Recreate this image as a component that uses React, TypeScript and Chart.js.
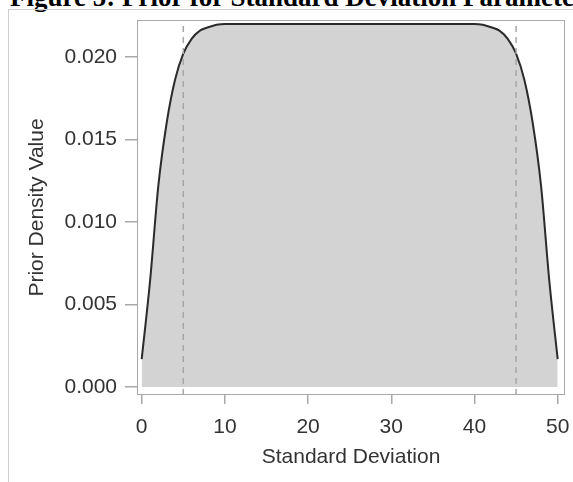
import React, { useEffect, useRef } from "react";
import { Chart, registerables } from "chart.js";

Chart.register(...registerables);

// Data
const sdValues = [0, 1, 2, 3, 4, 5, 6, 7, 8, 9, 10, 15, 20, 25, 30, 35, 40, 41, 42, 43, 44, 45, 46, 47, 48, 49, 50];
const densityValues = [
  0.0017, 0.0064, 0.0122, 0.016, 0.0186, 0.0202, 0.0211, 0.0216, 0.0218, 0.02195, 0.022,
  0.022, 0.022, 0.022, 0.022, 0.022,
  0.022, 0.02195, 0.0218, 0.0216, 0.0211, 0.0202, 0.0186, 0.016, 0.0122, 0.0064, 0.0017,
];
const refLines = [5, 45];
const xTicks = [0, 10, 20, 30, 40, 50];
const yTicks = [0, 0.005, 0.01, 0.015, 0.02];
const yTickLabels = ["0.000", "0.005", "0.010", "0.015", "0.020"];

const titleText = "Figure 5: Prior for Standard Deviation Parameter";
const xTitle = "Standard Deviation";
const yTitle = "Prior Density Value";

const X_MIN = -0.565;
const X_MAX = 50.88;
const Y_MIN = -0.00048;
const Y_MAX = 0.02224;

const FONT = "'Liberation Sans', Arial, sans-serif";
const AXIS_GRAY = "#a8a8a8";
const TEXT = "#333333";

const framePlugin = {
  id: "plotFrame",
  afterDraw(chart: any) {
    const { ctx, chartArea } = chart;
    ctx.save();
    ctx.strokeStyle = AXIS_GRAY;
    ctx.lineWidth = 1;
    ctx.strokeRect(
      Math.round(chartArea.left) + 0.5,
      Math.round(chartArea.top) + 0.5,
      Math.round(chartArea.right - chartArea.left) - 1,
      Math.round(chartArea.bottom - chartArea.top) - 1
    );
    ctx.restore();
  },
};

export default function App() {
  const canvasRef = useRef<HTMLCanvasElement | null>(null);

  useEffect(() => {
    const canvas = canvasRef.current;
    if (!canvas) return;

    const curve = sdValues.map((x, i) => ({ x, y: densityValues[i] }));
    const refDatasets = refLines.map((x) => ({
      type: "line" as const,
      data: [
        { x, y: Y_MIN },
        { x, y: Y_MAX },
      ],
      borderColor: "#a6a6a6",
      borderWidth: 1.5,
      borderDash: [6, 5],
      pointRadius: 0,
      fill: false,
      order: 0,
    }));

    const chart = new Chart(canvas, {
      type: "line",
      data: {
        datasets: [
          {
            data: curve,
            borderColor: "#2b2b2b",
            borderWidth: 2,
            backgroundColor: "#d3d3d3",
            fill: "origin",
            pointRadius: 0,
            cubicInterpolationMode: "monotone",
            order: 1,
          } as any,
          ...refDatasets,
        ],
      },
      options: {
        animation: false,
        responsive: false,
        maintainAspectRatio: false,
        devicePixelRatio: 1,
        layout: { padding: { left: 0, top: 20, right: 8, bottom: 0 } },
        plugins: {
          legend: { display: false },
          tooltip: { enabled: false },
          title: { display: false },
        },
        scales: {
          x: {
            type: "linear",
            min: X_MIN,
            max: X_MAX,
            afterBuildTicks: (scale: any) => {
              scale.ticks = xTicks.map((v) => ({ value: v }));
            },
            afterFit: (scale: any) => {
              scale.height = 87;
              scale.paddingLeft = 0;
              scale.paddingRight = 0;
            },
            grid: {
              drawOnChartArea: false,
              drawTicks: true,
              tickLength: 9,
              color: AXIS_GRAY,
              lineWidth: 1.5,
            },
            border: { display: false },
            ticks: {
              color: TEXT,
              font: { family: FONT, size: 21 },
              padding: 11,
              maxRotation: 0,
              callback: (v: any) => String(v),
            },
            title: {
              display: true,
              text: xTitle,
              color: TEXT,
              font: { family: FONT, size: 21 },
              padding: { top: 4, bottom: 12 },
            },
          },
          y: {
            type: "linear",
            min: Y_MIN,
            max: Y_MAX,
            afterBuildTicks: (scale: any) => {
              scale.ticks = yTicks.map((v) => ({ value: v }));
            },
            afterFit: (scale: any) => {
              scale.width = 137;
              scale.paddingTop = 0;
              scale.paddingBottom = 0;
            },
            grid: {
              drawOnChartArea: false,
              drawTicks: true,
              tickLength: 12,
              color: AXIS_GRAY,
              lineWidth: 1.5,
            },
            border: { display: false },
            ticks: {
              color: TEXT,
              font: { family: FONT, size: 21 },
              padding: 8,
              callback: (v: any) => {
                const i = yTicks.indexOf(v);
                return i >= 0 ? yTickLabels[i] : "";
              },
            },
            title: {
              display: true,
              text: yTitle,
              color: TEXT,
              font: { family: FONT, size: 21 },
              padding: { top: 25, bottom: 4 },
            },
          },
        },
      },
      plugins: [framePlugin],
    } as any);

    return () => chart.destroy();
  }, []);

  return (
    <div
      style={{
        position: "fixed",
        left: 0,
        top: 0,
        width: 573,
        height: 482,
        overflow: "hidden",
        background: "#ffffff",
      }}
    >
      <div
        style={{
          position: "absolute",
          left: 10,
          top: -16,
          whiteSpace: "nowrap",
          fontFamily: "'Liberation Serif', 'Times New Roman', serif",
          fontWeight: "bold",
          fontSize: 27,
          lineHeight: "27px",
          color: "#000",
        }}
      >
        {titleText}
      </div>
      <div
        style={{
          position: "absolute",
          left: 8,
          top: 9,
          width: 620,
          height: 520,
          border: "1px solid #cfcfcf",
          boxSizing: "border-box",
        }}
      />
      <canvas
        ref={canvasRef}
        width={573}
        height={482}
        style={{ position: "absolute", left: 0, top: 0, width: 573, height: 482 }}
      />
    </div>
  );
}
